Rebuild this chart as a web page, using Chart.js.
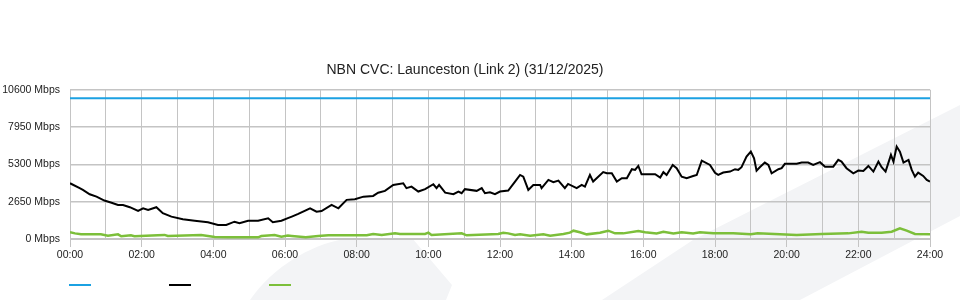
<!DOCTYPE html>
<html>
<head>
<meta charset="utf-8">
<script src="https://cdn.jsdelivr.net/npm/chart.js@4.4.1/dist/chart.umd.min.js"></script>
<style>
  html, body { margin: 0; padding: 0; background: #fff; }
  #wrap { position: relative; width: 960px; height: 300px; overflow: hidden; }
  #bg { position: absolute; left: 0; top: 0; }
  #chart { position: absolute; left: 0; top: 0; }
  .key { position: absolute; top: 284px; width: 22px; height: 2px; }
</style>
</head>
<body>
<div id="wrap">
  <svg id="bg" width="960" height="300">
    <path d="M 250 300 C 272 268 312 242 352 238 L 412 238 L 452 285 L 446 300 Z" fill="#f3f4f6"/>
    <path d="M 602 300 L 693 240 L 960 105 L 960 216 L 800 300 Z" fill="#f3f4f6"/>
  </svg>
  <canvas id="chart" width="960" height="300"></canvas>
  <div class="key" style="left:69px; background:#1ba1e2"></div>
  <div class="key" style="left:169px; background:#000"></div>
  <div class="key" style="left:269px; background:#7cbf3a"></div>
</div>
<script>
// Capacity line (Mbps)
const capacityHours = [0, 24];
const capacityMbps = [10000, 10000];

// Download traffic (hours of day, Mbps)
const downHours = [
  0.00, 0.27, 0.36, 0.55, 0.74, 0.96, 1.16, 1.34, 1.48, 1.67, 1.90, 2.04, 2.18, 2.41, 2.59, 2.83,
  3.15, 3.48, 3.85, 4.13, 4.36, 4.59, 4.73, 4.97, 5.25, 5.53, 5.66, 5.90, 6.08, 6.19, 6.37, 6.70,
  6.88, 7.02, 7.30, 7.49, 7.72, 7.95, 8.19, 8.46, 8.60, 8.79, 9.02, 9.30, 9.39, 9.53, 9.72, 9.91,
  10.14, 10.23, 10.30, 10.47, 10.70, 10.84, 10.93, 11.02, 11.35, 11.49, 11.58, 11.72, 11.86, 12.00,
  12.23, 12.42, 12.56, 12.65, 12.79, 12.93, 13.12, 13.16, 13.35, 13.49, 13.63, 13.81, 13.90, 14.14,
  14.28, 14.37, 14.51, 14.60, 14.88, 14.98, 15.12, 15.26, 15.40, 15.54, 15.68, 15.77, 15.86, 15.95,
  16.33, 16.47, 16.56, 16.65, 16.82, 16.93, 17.07, 17.21, 17.39, 17.49, 17.63, 17.86, 18.00, 18.09,
  18.23, 18.42, 18.56, 18.65, 18.74, 18.88, 19.00, 19.09, 19.16, 19.25, 19.39, 19.49, 19.58, 19.77,
  19.86, 19.95, 20.28, 20.42, 20.60, 20.74, 20.93, 21.07, 21.30, 21.44, 21.53, 21.67, 21.86, 22.00,
  22.14, 22.28, 22.42, 22.56, 22.65, 22.76, 22.91, 22.98, 23.07, 23.16, 23.26, 23.40, 23.49, 23.58,
  23.67, 23.81, 23.91, 24.00
];
const downMbps = [
  3960, 3610, 3490, 3180, 3010, 2730, 2580, 2420, 2420, 2260, 1990, 2180, 2060, 2260, 1830, 1590,
  1400, 1300, 1190, 1000, 1000, 1230, 1120, 1300, 1300, 1470, 1190, 1300, 1480, 1590, 1780, 2180,
  1940, 1990, 2420, 2180, 2780, 2820, 3010, 3060, 3290, 3420, 3840, 3960, 3610, 3720, 3370, 3540,
  3890, 3610, 3840, 3290, 3180, 3370, 3250, 3540, 3420, 3610, 3250, 3320, 3180, 3370,
  3440, 4080, 4550, 4430, 3490, 3840, 3840, 3610, 4200, 4030, 4150, 3610, 3910, 3610,
  3840, 3720, 4550, 4080, 4750, 4670, 4670, 4080, 4320, 4320, 4960, 4910, 5190, 4600,
  4600, 4360, 4750, 4550, 5260, 5030, 4430, 4320, 4480, 4550, 5570, 5260, 4700, 4550,
  4720, 4790, 4960, 4910, 5100, 5860, 6210, 5740, 4860, 5100, 5430, 5260, 4670, 4960,
  5030, 5340, 5340, 5430, 5430, 5260, 5460, 5140, 5140, 5620, 5500, 5030, 4670, 4860,
  4840, 5190, 4790, 5500, 5100, 4790, 5980, 5500, 6570, 6210, 5430, 5620, 4910, 4430,
  4720, 4480, 4200, 4080
];

// Upload traffic (hours of day, Mbps)
const upHours = [
  0.00, 0.14, 0.31, 0.86, 1.06, 1.34, 1.43, 1.70, 1.80, 2.45, 2.64, 2.73, 3.66, 4.04, 4.41, 5.25,
  5.34, 5.71, 5.90, 6.08, 6.19, 6.58, 6.93, 7.21, 8.28, 8.46, 8.70, 9.07, 9.21, 9.91, 10.00, 10.09,
  10.93, 11.07, 11.95, 12.09, 12.23, 12.42, 12.56, 12.84, 13.21, 13.40, 13.77, 13.95, 14.05, 14.23,
  14.42, 14.79, 15.02, 15.21, 15.44, 15.86, 16.05, 16.37, 16.56, 16.84, 17.07, 17.39, 17.58, 17.95,
  18.51, 19.00, 19.19, 20.28, 20.98, 21.72, 22.09, 22.28, 22.65, 22.93, 23.16, 23.35, 23.58, 24.00
];
const upMbps = [
  480, 400, 330, 330, 240, 330, 190, 260, 190, 260, 290, 210, 290, 140, 120, 120,
  210, 290, 160, 240, 210, 120, 210, 260, 260, 360, 290, 400, 360, 360, 450, 290,
  400, 260, 360, 450, 400, 290, 330, 240, 330, 240, 360, 450, 590, 480,
  330, 450, 590, 400, 400, 570, 480, 400, 520, 400, 480, 400, 480, 400,
  400, 330, 400, 290, 360, 400, 520, 450, 450, 520, 760, 590, 360, 330
];

const yMax = 10600;
const yStep = 2650;
const gridColor = '#c4c4c4';
const textColor = '#222';
const fontFamily = "'Liberation Sans', Arial, sans-serif";

function toPoints(xs, ys) {
  return xs.map((x, i) => ({ x: x, y: ys[i] }));
}

function hourLabel(v) {
  if (v % 2 !== 0) return '';
  return (v < 10 ? '0' : '') + v + ':00';
}

const ctx = document.getElementById('chart').getContext('2d');

new Chart(ctx, {
  type: 'line',
  data: {
    datasets: [
      {
        label: 'Capacity',
        data: toPoints(capacityHours, capacityMbps),
        borderColor: '#1ba1e2',
        borderWidth: 2,
        pointRadius: 0
      },
      {
        label: 'Download',
        data: toPoints(downHours, downMbps),
        borderColor: '#000',
        borderWidth: 2,
        pointRadius: 0,
        tension: 0
      },
      {
        label: 'Upload',
        data: toPoints(upHours, upMbps),
        borderColor: '#7cbf3a',
        borderWidth: 2.5,
        pointRadius: 0,
        tension: 0
      }
    ]
  },
  options: {
    responsive: false,
    animation: false,
    layout: { padding: { top: 62, right: 30, bottom: 39, left: 0 } },
    plugins: {
      legend: { display: false },
      tooltip: { enabled: false },
      title: {
        display: true,
        text: 'NBN CVC: Launceston (Link 2) (31/12/2025)',
        color: textColor,
        font: { family: fontFamily, size: 14, weight: 'normal' },
        padding: { top: 0, bottom: 11 }
      }
    },
    scales: {
      x: {
        type: 'linear',
        min: 0,
        max: 24,
        afterFit: s => { s.height = 22; },
        ticks: {
          stepSize: 1,
          autoSkip: false,
          maxRotation: 0,
          padding: 2,
          color: textColor,
          font: { family: fontFamily, size: 10.5 },
          callback: v => hourLabel(v)
        },
        grid: {
          color: gridColor,
          lineWidth: 1,
          tickLength: 8,
          tickColor: c => (c.tick && c.tick.value % 2 === 0) ? gridColor : 'rgba(0,0,0,0)'
        },
        border: { color: gridColor }
      },
      y: {
        min: 0,
        max: yMax,
        afterFit: s => { s.width = 70; },
        ticks: {
          stepSize: yStep,
          padding: 10,
          color: textColor,
          font: { family: fontFamily, size: 10.5 },
          callback: v => v + ' Mbps'
        },
        grid: { color: gridColor, lineWidth: 1.5, drawTicks: false },
        border: { color: gridColor }
      }
    }
  }
});
</script>
</body>
</html>
